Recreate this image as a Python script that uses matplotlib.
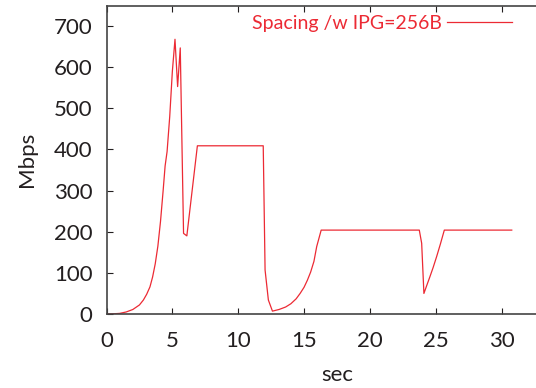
#! /usr/bin/env python3
# coding: utf-8

"""
    Throughput over time with packet spacing (IPG=256B)
"""
import matplotlib
matplotlib.use('Agg')
import matplotlib.pyplot as plt

# time (s) and throughput (Mbps)
sec = [0.0, 0.5, 1.0, 1.5, 2.0, 2.5, 2.8, 3.05, 3.3, 3.5, 3.7, 3.9, 4.1,
       4.3, 4.45, 4.6, 4.8, 5.0, 5.2, 5.4, 5.6, 5.85, 6.1, 6.9,
       11.9, 12.04, 12.29, 12.6, 13.1, 13.6, 14.0, 14.4, 14.7, 15.0, 15.25,
       15.5, 15.75, 15.96, 16.3,
       23.75, 23.93, 24.1, 24.3, 24.56, 24.8, 25.07, 25.35, 25.65, 30.77]
mbps = [0, 0.5, 1.5, 5, 11, 22, 34, 48, 66, 90, 122, 165, 225,
        300, 360, 395, 480, 590, 668, 553, 647, 196, 190, 409,
        409, 107, 34, 7, 11, 17, 25, 37, 50, 65, 82,
        102, 128, 164, 204,
        204, 172, 50, 68, 91, 113, 140, 170, 204, 204]

red = '#ec2a34'
ink = '#231f20'

plt.rcParams['font.family'] = ['Lato', 'DejaVu Sans']
plt.rcParams['font.size'] = 16

fig = plt.figure(figsize=(5.36, 3.88), dpi=100)
ax = fig.add_axes([0.1987, 0.1907, 0.86, 0.795])

ax.plot(sec, mbps, color=red, lw=0.9, label='Spacing /w IPG=256B')

ax.set_xlim(0, 35)
ax.set_ylim(0, 750)
ax.set_xticks(range(0, 35, 5))
ax.set_yticks(range(0, 800, 100))
ax.tick_params(direction='in', length=4, width=0.8, colors=ink,
               top=True, right=False, labelcolor=ink)
ax.tick_params(axis='x', pad=12)
ax.tick_params(axis='y', pad=10)
ax.spines['right'].set_visible(False)
for sp in ax.spines.values():
    sp.set_color('#444444')
    sp.set_linewidth(1.2)

ax.set_xlabel('sec', color=ink, labelpad=10)
ax.set_ylabel('Mbps', color=ink, labelpad=12)

leg = ax.legend(loc='upper right', bbox_to_anchor=(0.90, 1.0), frameon=False,
                markerfirst=False, handlelength=3.3, handletextpad=0.3,
                borderaxespad=0.1, fontsize=14)
for txt in leg.get_texts():
    txt.set_color(red)

fig.savefig('out.png', dpi=100)
